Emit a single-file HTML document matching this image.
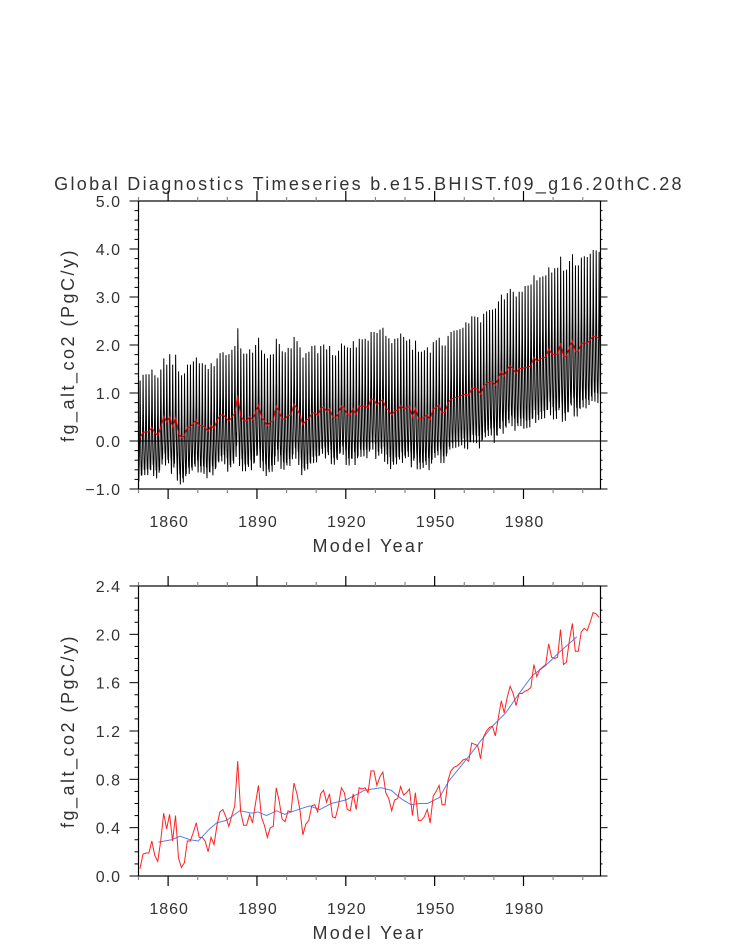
<!DOCTYPE html>
<html><head><meta charset="utf-8">
<style>
html,body{margin:0;padding:0;background:#fff;}
svg{display:block;}
text{font-family:"Liberation Sans",sans-serif;fill:#333;}
</style></head>
<body>
<svg id="chart" width="733" height="945" viewBox="0 0 733 945" xmlns="http://www.w3.org/2000/svg">
<text x="369" y="190" font-size="18" text-anchor="middle" letter-spacing="2.3">Global Diagnostics Timeseries b.e15.BHIST.f09_g16.20thC.28</text>
<g id="top"></g>
<g id="bot"></g>
</svg>
<script>
// ---- data ----
const startYear = 1850;
const annualMeans = [
0.06,0.18,0.19,0.19,0.29,0.17,0.12,0.29,0.52,0.39,
0.51,0.29,0.50,0.15,0.07,0.11,0.29,0.29,0.36,0.44,
0.32,0.32,0.29,0.20,0.32,0.26,0.42,0.53,0.55,0.49,
0.41,0.50,0.58,0.95,0.53,0.42,0.42,0.51,0.44,0.60,
0.75,0.49,0.42,0.32,0.40,0.41,0.73,0.62,0.47,0.45,
0.54,0.53,0.77,0.68,0.55,0.34,0.43,0.46,0.58,0.59,
0.53,0.68,0.71,0.61,0.68,0.49,0.48,0.58,0.73,0.69,
0.55,0.54,0.68,0.55,0.73,0.72,0.73,0.69,0.87,0.87,
0.75,0.82,0.86,0.69,0.64,0.54,0.63,0.64,0.74,0.67,
0.69,0.72,0.50,0.69,0.46,0.46,0.49,0.55,0.44,0.66,
0.70,0.75,0.59,0.59,0.79,0.87,
0.90,0.91,0.93,0.96,0.97,0.95,1.10,1.09,1.08,0.97,
1.15,1.20,1.23,1.24,1.16,1.31,1.45,1.35,1.48,1.57,
1.51,1.41,1.51,1.51,1.53,1.54,1.56,1.75,1.65,1.71,
1.73,1.75,1.92,1.81,1.80,1.81,2.04,1.75,1.77,1.95,
2.09,1.86,1.86,2.02,2.05,2.03,2.10,2.18,2.17,2.14];
const seasonalShape = [-0.55,-0.75,-0.5,-0.3,0.05,0.35,1.0,0.55,0.1,-0.25,-0.5,-0.65];
const decadalAmplitude = [1.2,1.3,1.3,1.4,1.4,1.4,1.3,1.4,1.5,1.4,1.4,1.5,1.6,1.7,1.8,1.8];
const smoothYears = [1856.7,1861.2,1864,1867.4,1870.2,1873.6,1876.4,1879.7,1884.2,1888.2,1890.4,1893.2,1896.6,1899.4,1903.9,1907.8,1911.2,1915.1,1920.1,1924.1,1926.3,1931.9,1935.3,1938.7,1942,1944.8,1947.6,1951.6,1954.9,1958.9,1962.2,1965.6,1969.5,1974,1978.5,1983,1987.4,1992,1998];
const smoothValues = [0.28,0.30,0.33,0.30,0.29,0.38,0.44,0.46,0.54,0.52,0.53,0.50,0.54,0.51,0.55,0.58,0.55,0.60,0.63,0.68,0.71,0.73,0.71,0.64,0.59,0.60,0.60,0.65,0.79,0.91,1.01,1.12,1.24,1.35,1.51,1.66,1.74,1.85,1.98];
const xTickLabels = ["1860","1890","1920","1950","1980"];
const topYTickLabels = ["-1.0","0.0","1.0","2.0","3.0","4.0","5.0"];
const botYTickLabels = ["0.0","0.4","0.8","1.2","1.6","2.0","2.4"];

// ---- helpers ----
const NS="http://www.w3.org/2000/svg";
function mk(parent,tag,attrs,txt){const e=document.createElementNS(NS,tag);for(const k in attrs)e.setAttribute(k,attrs[k]);if(txt!==undefined)e.textContent=txt;parent.appendChild(e);return e;}
const L=138.5,R=600.5;
function xs(yr){return L+(yr-1850)*(R-L)/156;}

function panel(g,T,B,vmin,vmax,major,minor,ylabels){
  const ys=v=>T+(vmax-v)*(B-T)/(vmax-vmin);
  const frame=mk(g,'rect',{x:L,y:T,width:R-L,height:B-T,fill:'none',stroke:'#000','stroke-width':1.2});
  
  
  for(let yr=1850;yr<=2000;yr+=10){
    const isMaj=(yr-1860)%30===0;
    const len=isMaj?10:4, x=xs(yr);
    const t1=mk(g,'line',{x1:x,y1:B,x2:x,y2:B+len,stroke:isMaj?'#000':'#888','stroke-width':1.2});
    
    
    const t2=mk(g,'line',{x1:x,y1:T,x2:x,y2:T-len,stroke:isMaj?'#000':'#888','stroke-width':1.2});
    
    
  }
  xTickLabels.forEach(s=>{
    const t=mk(g,'text',{x:xs(+s)+1,y:B+38,'font-size':16,'text-anchor':'middle','letter-spacing':'1'},s);
    
    
  });
  const n=Math.round((vmax-vmin)/minor);
  for(let i=0;i<=n;i++){
    const v=vmin+i*minor, y=ys(v);
    const isMaj=Math.abs((v-vmin)/major-Math.round((v-vmin)/major))<1e-6;
    const len=isMaj?9:4;
    const a=mk(g,'line',{x1:L,y1:y,x2:L-len,y2:y,stroke:'#000','stroke-width':1});
    
    
    const b=mk(g,'line',{x1:R,y1:y,x2:R+len-2,y2:y,stroke:'#000','stroke-width':1});
    
    
  }
  ylabels.forEach(s=>{
    const t=mk(g,'text',{x:121,y:ys(parseFloat(s))+6,'font-size':16,'text-anchor':'end','letter-spacing':'1'},s.replace('-','\u2212'));
    
    
  });
  const xt=mk(g,'text',{x:369,y:B+63,'font-size':18,'text-anchor':'middle','letter-spacing':'2.3'},'Model Year');
  
  
  const cy=(T+B)/2;
  const yt=mk(g,'text',{x:74,y:cy,'font-size':18,'text-anchor':'middle','letter-spacing':'2.5',transform:`rotate(-90 74 ${cy})`},'fg_alt_co2 (PgC/y)');
  
  
  return ys;
}

// ---- top panel ----
const gt=document.getElementById('top');
const yt=panel(gt,201,489,-1,5,1,0.2,topYTickLabels);
let pts=[];
annualMeans.forEach((m,i)=>{
  const amp=decadalAmplitude[Math.min(Math.floor(i/10),decadalAmplitude.length-1)];
  seasonalShape.forEach((s,k)=>{
    const yr=startYear+i+(k+0.5)/12;
    pts.push(xs(yr).toFixed(2)+','+yt(m+s*amp).toFixed(2));
  });
});
const monthly=mk(gt,'polyline',{points:pts.join(' '),fill:'none',stroke:'#000','stroke-width':1});


const zl=mk(gt,'line',{x1:L,y1:yt(0),x2:R,y2:yt(0),stroke:'#000','stroke-width':1});


const redTop=mk(gt,'polyline',{points:annualMeans.map((v,i)=>xs(startYear+i+0.5).toFixed(2)+','+yt(v).toFixed(2)).join(' '),fill:'none',stroke:'#e00','stroke-width':1});



// ---- bottom panel ----
const gb=document.getElementById('bot');
const yb=panel(gb,586,876,0,2.4,0.4,0.1,botYTickLabels);
const blue=mk(gb,'polyline',{points:smoothYears.map((yr,i)=>xs(yr).toFixed(2)+','+yb(smoothValues[i]).toFixed(2)).join(' '),fill:'none',stroke:'#5b7fe8','stroke-width':1});


const red=mk(gb,'polyline',{points:annualMeans.map((v,i)=>xs(startYear+i+0.5).toFixed(2)+','+yb(v).toFixed(2)).join(' '),fill:'none',stroke:'#f22','stroke-width':1});


</script>
</body></html>
